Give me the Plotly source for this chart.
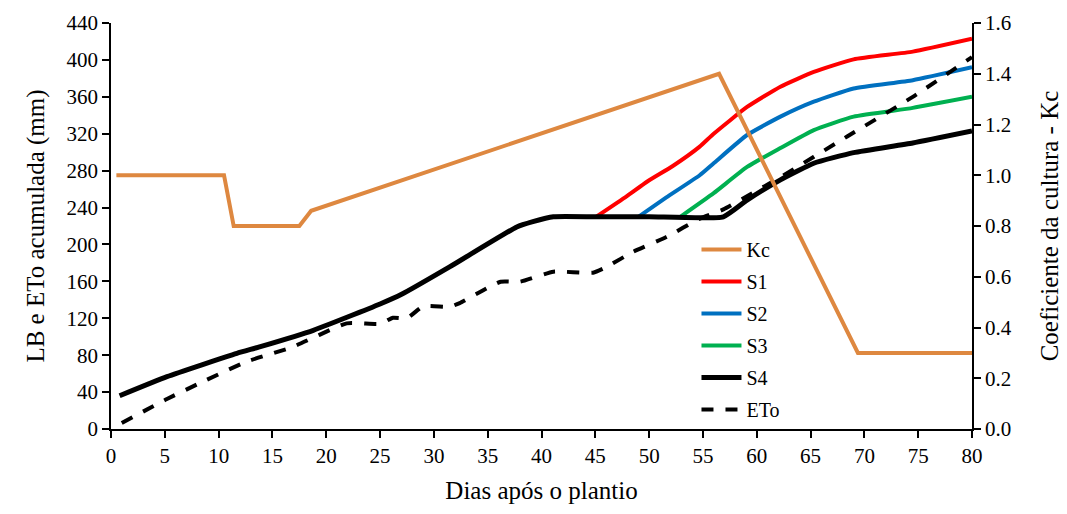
import plotly.graph_objects as go

# ---- data ----
kc_days = [0.5, 10.5, 11.4, 17.5, 18.6, 56.5, 69.4, 80]
kc_vals = [1.0, 1.0, 0.80, 0.80, 0.86, 1.40, 0.30, 0.30]

s4_days = [0.8, 5.2, 11.7, 13.8, 18.8, 25, 27, 31.5, 37.7, 39.2, 41.1, 45, 50, 56.9,
           59.1, 62.2, 65.3, 69, 74.5, 80]
s4_vals = [36, 56.7, 82, 89, 107, 135.5, 146, 176, 219, 224.7, 230, 230, 230, 230,
           248, 270, 288, 299.5, 310, 323]

s1_days = [45.1, 47.9, 49.8, 52.2, 54.7, 56, 59.1, 62.2, 65.3, 69, 74.5, 80]
s1_vals = [230, 252, 268, 285, 306, 320, 349, 371, 387, 400.6, 409, 423]

s2_days = [49, 51.6, 54.7, 56, 59.1, 62.2, 65.3, 69, 74.5, 80]
s2_vals = [230, 251, 275, 288, 318.6, 338.5, 354.7, 369, 378, 392]

s3_days = [52.9, 56, 59.1, 62.2, 65.3, 69, 74.5, 80]
s3_vals = [230, 255.6, 284, 304.5, 324, 338.5, 348, 360]

eto_days = [1, 5.2, 8.3, 12.6, 16.9, 21.9, 25, 26.2, 27.5, 29, 31.5, 32.4, 36.2, 38, 41.1,
            44.8, 46.1, 48.5, 51.6, 54.7, 56.9, 62.2, 68.4, 74.5, 80]
eto_vals = [6.5, 32.5, 50, 73, 89, 114.5, 114, 120.6, 120, 133, 132.5, 136.5, 159.6, 159.6,
            170.5, 169.4, 176, 192, 208, 228, 238, 273, 317, 360, 403]

x_ticks = list(range(0, 81, 5))
y_ticks = list(range(0, 441, 40))
kc_ticks = [0.0, 0.2, 0.4, 0.6, 0.8, 1.0, 1.2, 1.4, 1.6]

FONT = "Liberation Serif"
SM = 0.45

fig = go.Figure()
fig.add_trace(go.Scatter(x=kc_days, y=kc_vals, name="Kc", mode="lines", yaxis="y2",
                         line=dict(color="#DE8840", width=4), legendgroup="a"))
fig.add_trace(go.Scatter(x=s1_days, y=s1_vals, name="S1", mode="lines",
                         line=dict(color="#FF0000", width=4, shape="spline", smoothing=SM),
                         legendgroup="b"))
fig.add_trace(go.Scatter(x=s2_days, y=s2_vals, name="S2", mode="lines",
                         line=dict(color="#0070C0", width=4, shape="spline", smoothing=SM),
                         legendgroup="c"))
fig.add_trace(go.Scatter(x=s3_days, y=s3_vals, name="S3", mode="lines",
                         line=dict(color="#00B050", width=4, shape="spline", smoothing=SM),
                         legendgroup="d"))
fig.add_trace(go.Scatter(x=s4_days, y=s4_vals, name="S4", mode="lines",
                         line=dict(color="#000000", width=5, shape="spline", smoothing=SM),
                         legendgroup="e"))
fig.add_trace(go.Scatter(x=eto_days, y=eto_vals, name="ETo", mode="lines",
                         line=dict(color="#000000", width=4, dash="dash", shape="spline", smoothing=SM),
                         legendgroup="f"))

def ax(**kw):
    d = dict(showgrid=False, zeroline=False, showline=True, linecolor="black",
             linewidth=1.5, ticks="outside", ticklen=7, tickcolor="black", tickwidth=1.5,
             automargin=False,
             tickfont=dict(family=FONT, size=21, color="black"))
    d.update(kw)
    return d

# page body has an 8px margin: the figure is sized and offset to compensate
fig.update_layout(
    width=1059, height=506,
    margin=dict(l=103, r=95, t=15, b=85),
    plot_bgcolor="white", paper_bgcolor="white",
    font=dict(family=FONT, size=21, color="black"),
    xaxis=ax(range=[0, 80], tickvals=x_ticks,
             title=dict(text="Dias após o plantio", font=dict(family=FONT, size=25, color="black"))),
    yaxis=ax(range=[0, 440], tickvals=y_ticks,
             title=dict(text="LB e ETo acumulada (mm)", font=dict(family=FONT, size=25, color="black"))),
    yaxis2=ax(range=[0, 1.6], tickvals=kc_ticks, tickformat=".1f", overlaying="y", side="right",
              title=dict(text="Coeficiente da cultura - Kc", standoff=30,
                         font=dict(family=FONT, size=25, color="black"))),
    legend=dict(x=0.68, y=0.49, xanchor="left", yanchor="top", bgcolor="rgba(0,0,0,0)",
                font=dict(family=FONT, size=20, color="black"), tracegroupgap=3,
                itemwidth=40),
    showlegend=True,
)

fig.write_html("out.html")
